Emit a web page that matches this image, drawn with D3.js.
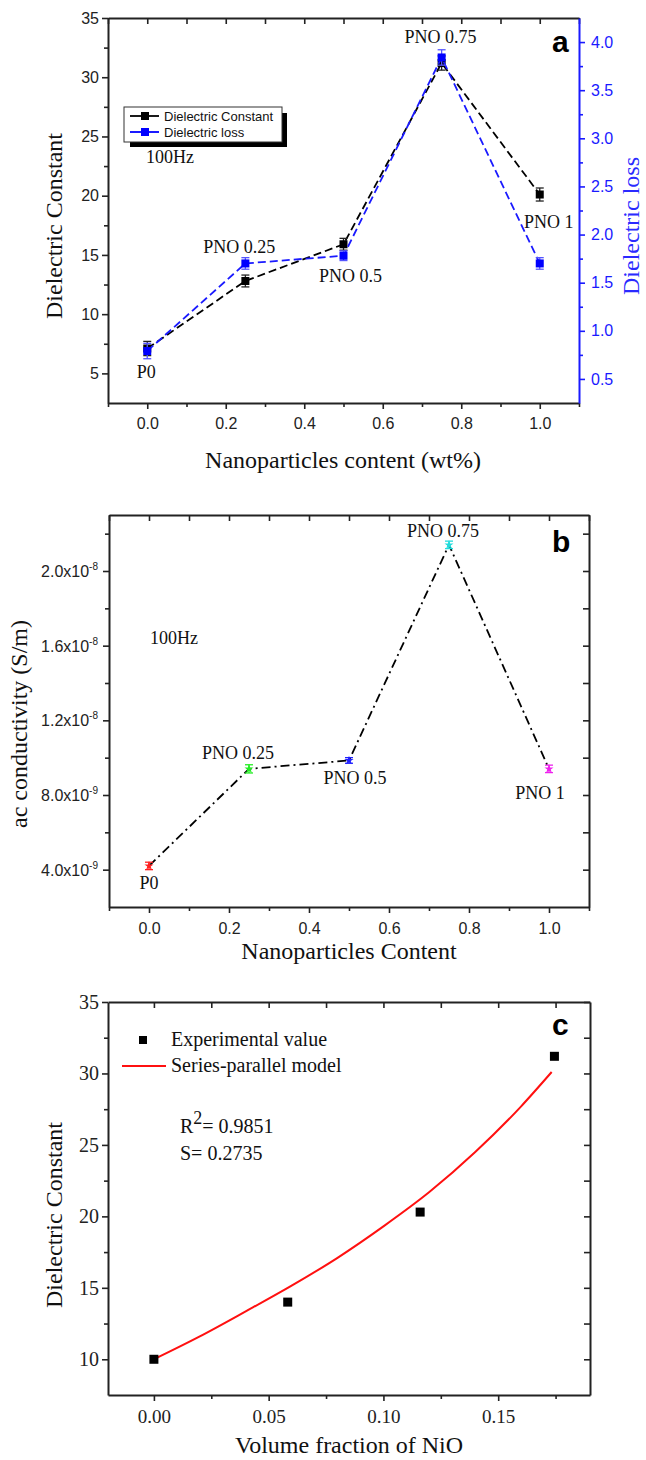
<!DOCTYPE html>
<html>
<head>
<meta charset="utf-8">
<script src="https://cdn.jsdelivr.net/npm/d3@7"></script>
<style>
  body { margin: 0; background: #fff; }
  svg { display: block; }
</style>
</head>
<body>
<svg id="fig" width="646" height="1460"></svg>
<script>
// ---- data ----
const contentWt = [0, 0.25, 0.5, 0.75, 1.0];
const sampleNames = ["P0", "PNO 0.25", "PNO 0.5", "PNO 0.75", "PNO 1"];

// (a) dielectric constant and loss at 100 Hz
const dielConst = [7.1, 12.8, 15.9, 31.2, 20.1];
const dielConstErr = [0.6, 0.5, 0.5, 0.6, 0.55];
const dielLoss = [0.79, 1.70, 1.78, 3.84, 1.70];
const dielLossErr = [0.08, 0.06, 0.05, 0.08, 0.06];

// (b) ac conductivity at 100 Hz
const acCond = [4.2e-9, 9.4e-9, 9.85e-9, 2.14e-8, 9.4e-9];
const acCondErr = [0.2e-9, 0.22e-9, 0.15e-9, 0.2e-9, 0.2e-9];
const sampleColors = ["#ff2020", "#22ee22", "#2020ff", "#22dddd", "#ee22ee"];

// (c) experimental values vs series-parallel model
const volFraction = [0, 0.0583, 0.116, 0.1745];
const expConst = [10.0, 14.0, 20.3, 31.2];
const modelFraction = [0, 0.02, 0.04, 0.06, 0.08, 0.10, 0.12, 0.14, 0.16, 0.1733];
const modelConst = [10.0, 11.6, 13.35, 15.15, 17.1, 19.3, 21.7, 24.5, 27.7, 30.1];

// tick values
const ticksA_x = [0, 0.2, 0.4, 0.6, 0.8, 1.0];
const ticksA_xMinor = [-0.1, 0.1, 0.3, 0.5, 0.7, 0.9, 1.1];
const ticksA_y = [5, 10, 15, 20, 25, 30, 35];
const ticksA_yMinor = [7.5, 12.5, 17.5, 22.5, 27.5, 32.5];
const ticksA_y2 = [0.5, 1.0, 1.5, 2.0, 2.5, 3.0, 3.5, 4.0];
const ticksA_y2Minor = [0.75, 1.25, 1.75, 2.25, 2.75, 3.25, 3.75];
const ticksB_y = [4e-9, 8e-9, 1.2e-8, 1.6e-8, 2.0e-8];
const ticksB_yMinor = [6e-9, 1.0e-8, 1.4e-8, 1.8e-8, 2.2e-8];
const ticksC_x = [0, 0.05, 0.10, 0.15];
const ticksC_xMinor = [0.025, 0.075, 0.125, 0.175];
const ticksC_y = [10, 15, 20, 25, 30, 35];
const ticksC_yMinor = [12.5, 17.5, 22.5, 27.5, 32.5];

// ---- helpers ----
const SANS = "'Liberation Sans', Arial, sans-serif";
const SERIF = "'Liberation Serif', 'Times New Roman', serif";
const svg = d3.select("#fig");

function styleAxis(sel, color, fontFamily, fontSize) {
  sel.select(".domain").attr("stroke", color).attr("stroke-width", 2);
  sel.selectAll(".tick line").attr("stroke", color).attr("stroke-width", 1.6);
  sel.selectAll(".tick text").attr("fill", color)
    .attr("font-family", fontFamily).attr("font-size", fontSize);
  return sel;
}
function minorAxis(g, gen, transform, color) {
  const a = g.append("g").attr("transform", transform).call(gen);
  a.select(".domain").remove();
  a.selectAll(".tick line").attr("stroke", color).attr("stroke-width", 1.6);
  a.selectAll("text").remove();
}
function frame(g, x, y, opt) {
  const [x0] = x.range(), [y0, y1] = [y.range()[1], y.range()[0]];
  // bottom
  styleAxis(g.append("g").attr("transform", `translate(0,${y1})`)
    .call(d3.axisBottom(x).tickValues(opt.xt).tickSizeInner(6).tickSizeOuter(0)
      .tickPadding(opt.xPad).tickFormat(opt.xf)), "#222", opt.xFont, opt.xSize);
  minorAxis(g, d3.axisBottom(x).tickValues(opt.xm).tickSize(4), `translate(0,${y1})`, "#222");
  // top (inward ticks)
  styleAxis(g.append("g").attr("transform", `translate(0,${y0})`)
    .call(d3.axisTop(x).tickValues(opt.xt.concat(opt.xm)).tickSizeInner(-6).tickSizeOuter(0).tickFormat("")),
    "#222", opt.xFont, opt.xSize);
  // left
  styleAxis(g.append("g").attr("transform", `translate(${x0},0)`)
    .call(d3.axisLeft(y).tickValues(opt.yt).tickSizeInner(6).tickSizeOuter(0)
      .tickPadding(opt.yPad).tickFormat(opt.yf)), "#222", opt.yFont, opt.ySize);
  minorAxis(g, d3.axisLeft(y).tickValues(opt.ym).tickSize(4), `translate(${x0},0)`, "#222");
}
function errorBars(g, xs, ys, errs, xScale, yScale, color, cap) {
  const eb = g.append("g").attr("stroke", color).attr("stroke-width", 1.3).attr("fill", "none");
  xs.forEach((xv, i) => {
    const cx = xScale(xv), t = yScale(ys[i] + errs[i]), b = yScale(ys[i] - errs[i]);
    eb.append("line").attr("x1", cx).attr("x2", cx).attr("y1", t).attr("y2", b);
    eb.append("line").attr("x1", cx - cap).attr("x2", cx + cap).attr("y1", t).attr("y2", t);
    eb.append("line").attr("x1", cx - cap).attr("x2", cx + cap).attr("y1", b).attr("y2", b);
  });
}
function squares(g, xs, ys, xScale, yScale, color, size) {
  g.append("g").selectAll("rect").data(xs).join("rect")
    .attr("x", (d) => xScale(d) - size / 2)
    .attr("y", (d, i) => yScale(ys[i]) - size / 2)
    .attr("width", size).attr("height", size).attr("fill", color);
}
function serifText(g, x, y, str, size, anchor) {
  return g.append("text").attr("x", x).attr("y", y).text(str)
    .attr("font-family", SERIF).attr("font-size", size).attr("fill", "#111")
    .attr("text-anchor", anchor || "start");
}
function panelLetter(g, x, y, str) {
  g.append("text").attr("x", x).attr("y", y).text(str)
    .attr("font-family", SANS).attr("font-weight", "bold").attr("font-size", 30).attr("fill", "#000");
}
function yTitle(g, x, y, str, color) {
  g.append("text").attr("transform", `translate(${x},${y}) rotate(-90)`)
    .attr("text-anchor", "middle").attr("font-family", SERIF).attr("font-size", 24)
    .attr("fill", color || "#111").text(str);
}

// ================= panel (a) =================
{
  const g = svg.append("g");
  const x = d3.scaleLinear().domain([-0.1, 1.1]).range([108, 579]);
  const y = d3.scaleLinear().domain([2.5, 35]).range([403, 18]);
  const y2 = d3.scaleLinear().domain([0.25, 4.25]).range([403, 18]);

  frame(g, x, y, {
    xt: ticksA_x, xm: ticksA_xMinor, xf: d3.format(".1f"), xPad: 9, xFont: SANS, xSize: 16,
    yt: ticksA_y, ym: ticksA_yMinor, yf: d3.format("d"), yPad: 3, yFont: SANS, ySize: 16
  });
  // right axis (dielectric loss)
  const blue = "#1a1aff";
  styleAxis(g.append("g").attr("transform", "translate(579,0)")
    .call(d3.axisRight(y2).tickValues(ticksA_y2).tickSizeInner(6).tickSizeOuter(0)
      .tickPadding(6).tickFormat(d3.format(".1f"))), blue, SANS, 16);
  const rm = g.append("g").attr("transform", "translate(579,0)")
    .call(d3.axisRight(y2).tickValues(ticksA_y2Minor).tickSize(4));
  rm.select(".domain").remove();
  rm.selectAll(".tick line").attr("stroke", blue).attr("stroke-width", 1.6);
  rm.selectAll("text").remove();

  // dielectric constant (black)
  g.append("path").datum(contentWt)
    .attr("d", d3.line().x((d) => x(d)).y((d, i) => y(dielConst[i])))
    .attr("fill", "none").attr("stroke", "#000").attr("stroke-width", 1.8)
    .attr("stroke-dasharray", "8,4");
  errorBars(g, contentWt, dielConst, dielConstErr, x, y, "#222", 4);
  squares(g, contentWt, dielConst, x, y, "#000", 8);

  // dielectric loss (blue)
  g.append("path").datum(contentWt)
    .attr("d", d3.line().x((d) => x(d)).y((d, i) => y2(dielLoss[i])))
    .attr("fill", "none").attr("stroke", blue).attr("stroke-width", 1.8)
    .attr("stroke-dasharray", "8,4");
  errorBars(g, contentWt, dielLoss, dielLossErr, x, y2, "#5555ff", 4);
  squares(g, contentWt, dielLoss, x, y2, "#0000ff", 8);

  // sample labels
  const la = [[-1, 378], [-6, 253], [7, 282], [-1, 43], [9, 228]];
  sampleNames.forEach((n, i) => serifText(g, x(contentWt[i]) + la[i][0], la[i][1], n, 18, "middle"));

  // legend with drop shadow
  g.append("rect").attr("x", 130).attr("y", 113).attr("width", 157).attr("height", 34).attr("fill", "#000");
  g.append("rect").attr("x", 124).attr("y", 107).attr("width", 158).attr("height", 35)
    .attr("fill", "#fff").attr("stroke", "#333").attr("stroke-width", 1);
  [["Dielectric Constant", "#000", 121], ["Dielectric loss", "#0000ff", 137]].forEach(([t, c, yy]) => {
    g.append("line").attr("x1", 130).attr("x2", 159).attr("y1", yy - 5).attr("y2", yy - 5)
      .attr("stroke", c).attr("stroke-width", 1.8);
    g.append("rect").attr("x", 141).attr("y", yy - 9).attr("width", 8).attr("height", 8).attr("fill", c);
    g.append("text").attr("x", 164).attr("y", yy).text(t)
      .attr("font-family", SANS).attr("font-size", 13).attr("fill", "#111");
  });
  serifText(g, 146, 163, "100Hz", 18);
  panelLetter(g, 552, 52, "a");

  yTitle(g, 62, 226, "Dielectric Constant");
  yTitle(g, 639, 226, "Dielectric loss", "#2a2aff");
  serifText(g, 343, 468, "Nanoparticles content (wt%)", 24, "middle");
}

// ================= panel (b) =================
{
  const g = svg.append("g");
  const x = d3.scaleLinear().domain([-0.1, 1.1]).range([109, 589]);
  const y = d3.scaleLinear().domain([2e-9, 2.3e-8]).range([907, 515]);

  frame(g, x, y, {
    xt: ticksA_x, xm: ticksA_xMinor, xf: d3.format(".1f"), xPad: 10, xFont: SANS, xSize: 16,
    yt: ticksB_y, ym: ticksB_yMinor, yf: () => "", yPad: 4, yFont: SANS, ySize: 16
  });
  // right side: inward ticks
  const r = g.append("g").attr("transform", "translate(589,0)")
    .call(d3.axisRight(y).tickValues(ticksB_y.concat(ticksB_yMinor)).tickSizeInner(-6).tickSizeOuter(0).tickFormat(""));
  styleAxis(r, "#222", SANS, 16);

  // mantissa x 10^exponent tick labels
  const yl = g.append("g").attr("font-family", SANS).attr("fill", "#222").attr("text-anchor", "end");
  ticksB_y.forEach((v) => {
    const e = Math.floor(Math.log10(v) + 1e-9);
    const m = v / Math.pow(10, e);
    const t = yl.append("text").attr("x", 98).attr("y", y(v) + 6);
    t.append("tspan").attr("font-size", 16).text(`${m.toFixed(1)}x10`);
    t.append("tspan").attr("font-size", 10).attr("dy", -7).text(`${e}`);
  });

  g.append("path").datum(contentWt)
    .attr("d", d3.line().x((d) => x(d)).y((d, i) => y(acCond[i])))
    .attr("fill", "none").attr("stroke", "#000").attr("stroke-width", 1.8)
    .attr("stroke-dasharray", "9,4,2,4");
  contentWt.forEach((d, i) => {
    errorBars(g, [d], [acCond[i]], [acCondErr[i]], x, y, sampleColors[i], 4);
    g.append("path").attr("d", d3.symbol(d3.symbolStar, 26)())
      .attr("transform", `translate(${x(d)},${y(acCond[i])})`).attr("fill", sampleColors[i]);
  });

  const lb = [[0, 889], [-11, 759], [6, 784], [-6, 537], [-9, 799]];
  sampleNames.forEach((n, i) => serifText(g, x(contentWt[i]) + lb[i][0], lb[i][1], n, 18, "middle"));

  serifText(g, 150, 644, "100Hz", 18);
  panelLetter(g, 552, 552, "b");
  yTitle(g, 27, 724, "ac conductivity (S/m)");
  serifText(g, 349, 959, "Nanoparticles Content", 24, "middle");
}

// ================= panel (c) =================
{
  const g = svg.append("g");
  const x = d3.scaleLinear().domain([-0.02, 0.19]).range([108, 590]);
  const y = d3.scaleLinear().domain([7.5, 35]).range([1395, 1002]);

  frame(g, x, y, {
    xt: ticksC_x, xm: ticksC_xMinor, xf: d3.format(".2f"), xPad: 9, xFont: SERIF, xSize: 19,
    yt: ticksC_y, ym: ticksC_yMinor, yf: d3.format("d"), yPad: 3, yFont: SERIF, ySize: 20
  });
  const r = g.append("g").attr("transform", "translate(590,0)")
    .call(d3.axisRight(y).tickValues(ticksC_y.concat(ticksC_yMinor)).tickSizeInner(-6).tickSizeOuter(0).tickFormat(""));
  styleAxis(r, "#222", SERIF, 19);

  g.append("path").datum(modelFraction)
    .attr("d", d3.line().curve(d3.curveMonotoneX).x((d) => x(d)).y((d, i) => y(modelConst[i])))
    .attr("fill", "none").attr("stroke", "#ff1010").attr("stroke-width", 2);
  squares(g, volFraction, expConst, x, y, "#000", 9);

  // legend
  g.append("rect").attr("x", 139).attr("y", 1036).attr("width", 8).attr("height", 8).attr("fill", "#000");
  serifText(g, 171, 1046, "Experimental value", 20);
  g.append("line").attr("x1", 122).attr("x2", 166).attr("y1", 1066).attr("y2", 1066)
    .attr("stroke", "#ff1010").attr("stroke-width", 2);
  serifText(g, 171, 1072, "Series-parallel model", 20);

  const r2 = serifText(g, 180, 1133, "R", 20);
  r2.append("tspan").attr("dy", -9).attr("font-size", 18).text("2");
  r2.append("tspan").attr("dy", 9).text("= 0.9851");
  serifText(g, 180, 1160, "S= 0.2735", 20);

  panelLetter(g, 552, 1035, "c");
  yTitle(g, 62, 1215, "Dielectric Constant");
  serifText(g, 349, 1453, "Volume fraction of NiO", 24, "middle");
}
</script>
</body>
</html>
